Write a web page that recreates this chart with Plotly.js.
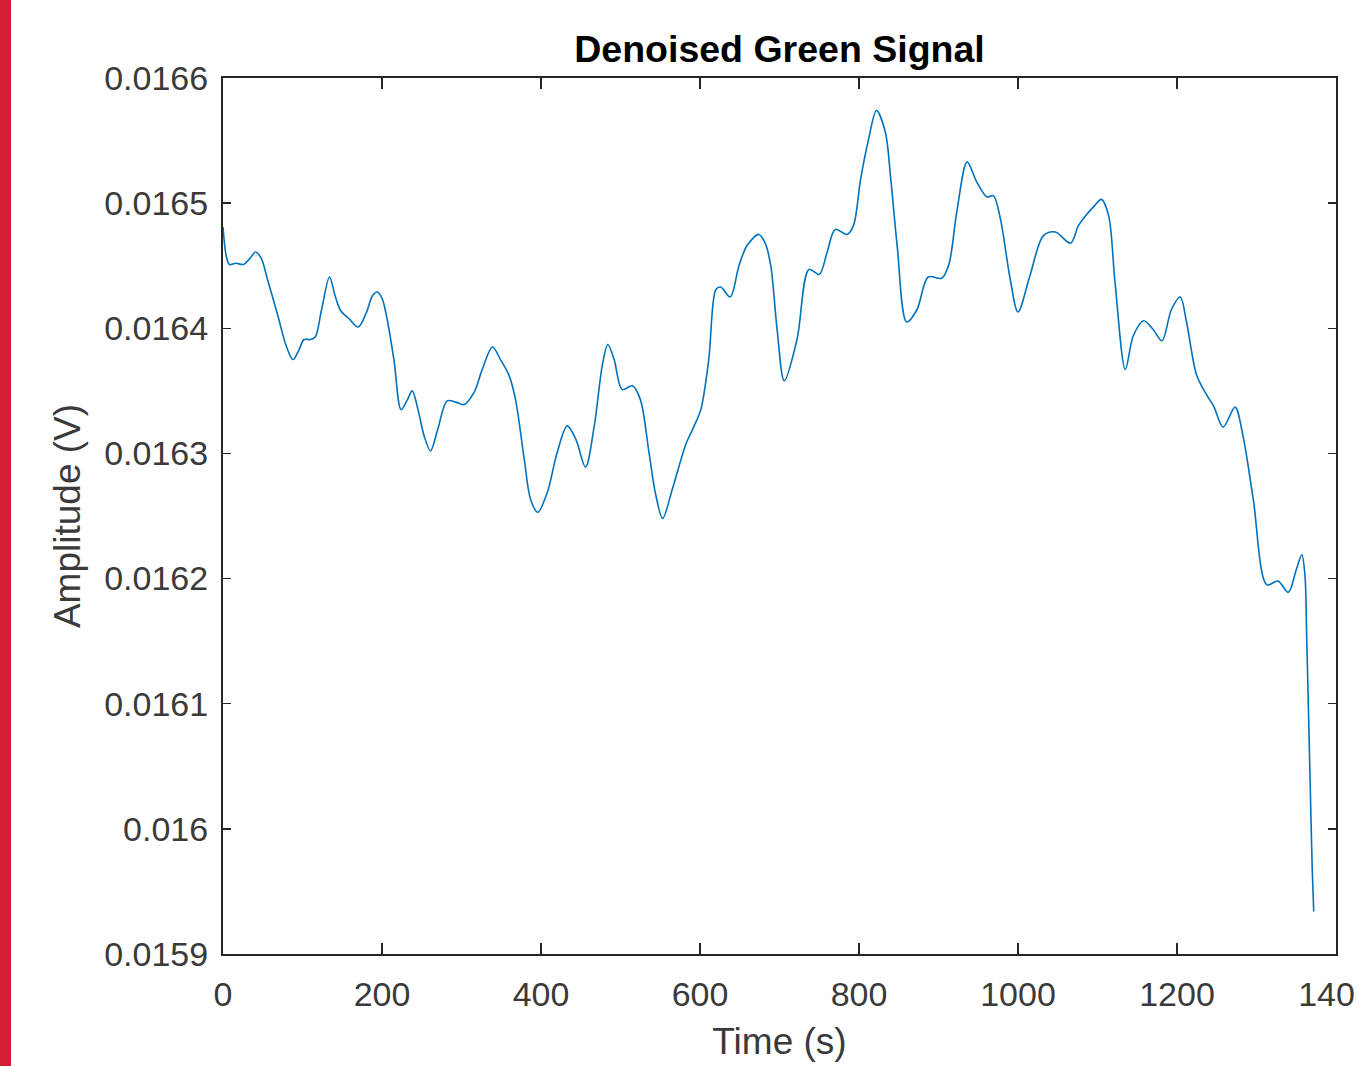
<!DOCTYPE html>
<html>
<head>
<meta charset="utf-8">
<script src="https://cdn.plot.ly/plotly-3.0.1.min.js"></script>
<style>
  html, body { margin: 0; padding: 0; background: #ffffff; }
  #wrap { position: relative; width: 1356px; height: 1066px; }
  #bar { position: absolute; left: 0; top: 0; width: 11px; height: 1066px; background: #d11f35; z-index: 5; }
  #chart { position: absolute; left: 0; top: 0; width: 1356px; height: 1066px; }
</style>
</head>
<body>
<div id="wrap"><div id="chart"></div><div id="bar"></div></div>
<script>
// Time (s)
const timeS = [
  0, 4, 8, 16, 26, 34, 41, 48, 56, 69, 80, 88, 95, 102, 110, 116, 124, 134, 141, 148,
  158, 170, 180, 188, 194, 200, 205, 215, 224, 232, 238, 246, 253, 261, 270, 282, 293, 303, 316, 326,
  339, 349, 360, 368, 379, 387, 396, 408, 420, 433, 444, 456, 467, 477, 484, 492, 502, 515, 525, 536,
  544, 553, 565, 582, 592, 601, 611, 620, 626, 638, 649, 659, 674, 682, 689, 697, 706, 722, 737, 750,
  760, 770, 785, 793, 802, 812, 822, 833, 840, 848, 860, 873, 887, 904, 913, 923, 936, 948, 961, 969,
  978, 990, 1000, 1015, 1032, 1047, 1066, 1076, 1085, 1095, 1105, 1114, 1122, 1135, 1145, 1158, 1170, 1181, 1193, 1204,
  1212, 1225, 1239, 1246, 1258, 1273, 1283, 1296, 1313, 1327, 1340, 1350, 1357, 1361, 1363, 1367, 1370, 1372
];
// Amplitude (V)
const amplitudeV = [
  0.016481, 0.016458, 0.016451, 0.016452, 0.016451, 0.016456, 0.016461, 0.016456, 0.016439, 0.016410,
  0.016385, 0.016375, 0.016382, 0.016391, 0.016391, 0.016393, 0.016415, 0.016441, 0.016426, 0.016414,
  0.016408, 0.016401, 0.016412, 0.016426, 0.016429, 0.016424, 0.016412, 0.016375, 0.016335, 0.016343,
  0.016350, 0.016333, 0.016314, 0.016302, 0.016319, 0.016342, 0.016341, 0.016339, 0.016349, 0.016367,
  0.016385, 0.016375, 0.016362, 0.016343, 0.016295, 0.016263, 0.016253, 0.016269, 0.016300, 0.016322,
  0.016311, 0.016289, 0.016322, 0.016370, 0.016387, 0.016375, 0.016351, 0.016354, 0.016343, 0.016300,
  0.016268, 0.016248, 0.016271, 0.016307, 0.016321, 0.016335, 0.016375, 0.016431, 0.016433, 0.016425,
  0.016450, 0.016466, 0.016475, 0.016468, 0.016450, 0.016399, 0.016358, 0.016391, 0.016447, 0.016443,
  0.016461, 0.016479, 0.016475, 0.016482, 0.016519, 0.016551, 0.016574, 0.016557, 0.016519, 0.016466,
  0.016405, 0.016415, 0.016441, 0.016440, 0.016451, 0.016493, 0.016533, 0.016517, 0.016505, 0.016506,
  0.016487, 0.016440, 0.016413, 0.016442, 0.016474, 0.016477, 0.016468, 0.016482, 0.016490, 0.016497,
  0.016503, 0.016490, 0.016437, 0.016367, 0.016394, 0.016406, 0.016399, 0.016390, 0.016415, 0.016425,
  0.016405, 0.016362, 0.016345, 0.016338, 0.016321, 0.016337, 0.016314, 0.016263, 0.016195, 0.016198,
  0.016189, 0.016207, 0.016219, 0.016202, 0.016157, 0.016050, 0.015970, 0.015934
];
// Tick labels
const xTickVals = [0, 200, 400, 600, 800, 1000, 1200, 1400];
const xTickText = ['0', '200', '400', '600', '800', '1000', '1200', '1400'];
const yTickVals = [0.0159, 0.0160, 0.0161, 0.0162, 0.0163, 0.0164, 0.0165, 0.0166];
const yTickText = ['0.0159', '0.016', '0.0161', '0.0162', '0.0163', '0.0164', '0.0165', '0.0166'];

const FONT = 'Liberation Sans, Arial, Helvetica, sans-serif';
const AX = '#262626';
const TXT = '#3a3a3a';

const trace = {
  x: timeS, y: amplitudeV, type: 'scatter', mode: 'lines',
  line: { color: '#0072BD', width: 1.6, shape: 'spline', smoothing: 0.9 },
  hoverinfo: 'x+y'
};

const layout = {
  width: 1356, height: 1066,
  margin: { l: 223, r: 20, t: 78, b: 112, pad: 0 },
  paper_bgcolor: '#ffffff', plot_bgcolor: '#ffffff',
  showlegend: false,
  font: { family: FONT, color: TXT, size: 34 },
  title: {
    text: '<b>Denoised Green Signal</b>',
    font: { family: FONT, size: 37.5, color: '#000000' },
    x: 0.5, xref: 'paper', y: 1 - 49 / 1066, yref: 'container', yanchor: 'middle'
  },
  xaxis: {
    range: [0, 1400], autorange: false,
    tickvals: xTickVals, ticktext: xTickText,
    ticks: 'inside', ticklen: 11, tickwidth: 1.5, tickcolor: AX,
    showline: true, linewidth: 2, linecolor: AX, mirror: 'ticks',
    showgrid: false, zeroline: false,
    tickfont: { family: FONT, size: 34, color: TXT },
    ticklabelstandoff: 9,
    ticklabeloverflow: 'allow',
    title: { text: 'Time (s)', font: { family: FONT, size: 37, color: TXT }, standoff: 16 }
  },
  yaxis: {
    range: [0.0159, 0.0166], autorange: false,
    tickvals: yTickVals, ticktext: yTickText,
    ticks: 'inside', ticklen: 8, tickwidth: 1.5, tickcolor: AX,
    showline: true, linewidth: 2, linecolor: AX, mirror: 'ticks',
    showgrid: false, zeroline: false,
    tickfont: { family: FONT, size: 34, color: TXT },
    ticklabelstandoff: 6,
    title: { text: 'Amplitude (V)', font: { family: FONT, size: 37, color: TXT }, standoff: 12 }
  }
};

Plotly.newPlot('chart', [trace], layout, { displayModeBar: false, staticPlot: true });
</script>
</body>
</html>
